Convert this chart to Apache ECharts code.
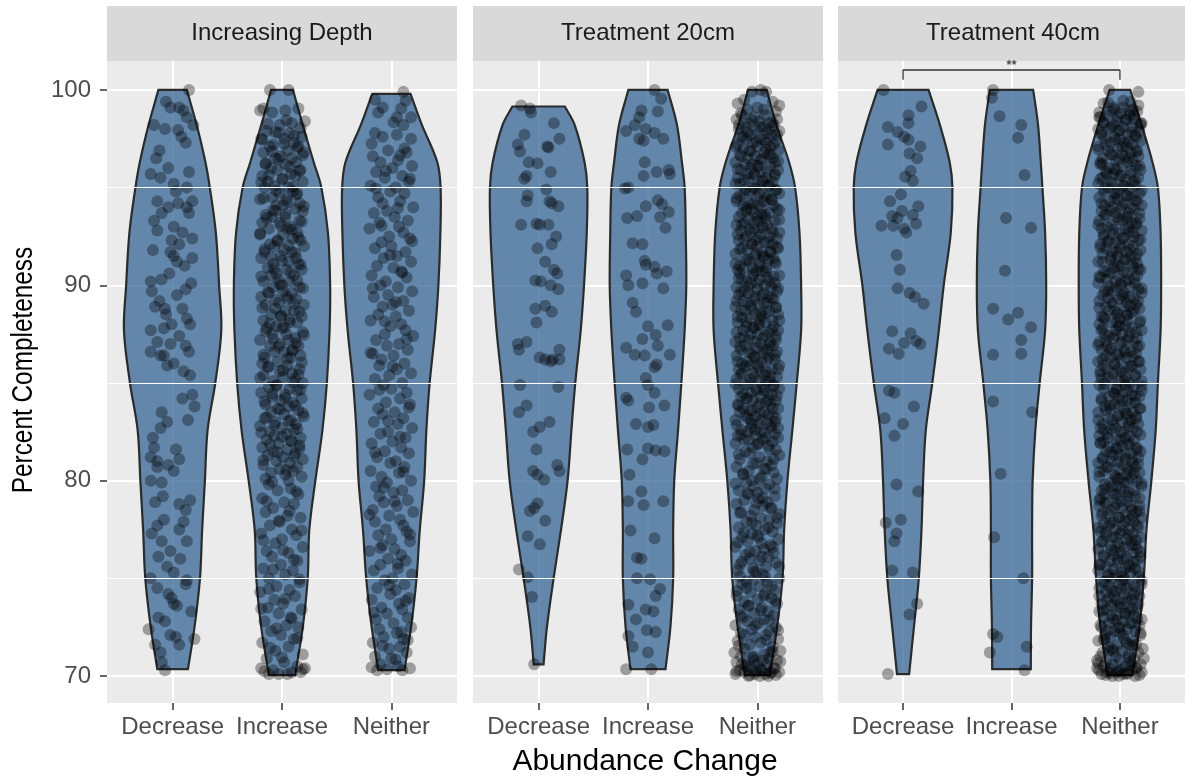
<!DOCTYPE html>
<html><head><meta charset="utf-8">
<script src="https://cdn.jsdelivr.net/npm/echarts@6/dist/echarts.min.js"></script>
<style>html,body{margin:0;padding:0;background:#fff}#c{width:1185px;height:784px}</style>
</head><body><div id="c"></div>
<script>
const facets = ['Increasing Depth', 'Treatment 20cm', 'Treatment 40cm'];
const groups = ['Decrease', 'Increase', 'Neither'];
const yTicks = [70, 80, 90, 100];
const yMinor = [75, 85, 95];
const xTitle = 'Abundance Change';
const yTitle = 'Percent Completeness';

// violin outline: half-width (x units) at these y levels
const violinLevels = [98.2, 96.3, 95, 92.7, 90, 87.7, 85, 82.6, 80, 77.5, 75, 72.5];
// [top y, top half-width, bottom y, bottom half-width]
const violinEnds = [
  [[100, .13, 70.35, .14], [100, .10, 70.05, .12], [99.8, .175, 70.3, .12]],
  [[99.15, .24, 70.6, .045], [100, .18, 70.35, .16], [100, .085, 70.05, .115]],
  [[100, .235, 70.1, .056], [100, .20, 70.35, .178], [100, .095, 70.05, .115]]
];
const violinWidths = [
  [[.22, .30, .34, .395, .425, .445, .39, .32, .295, .27, .25, .20],
   [.19, .29, .36, .42, .44, .435, .41, .37, .305, .25, .235, .19],
   [.28, .42, .45, .448, .43, .40, .35, .32, .30, .26, .23, .18]],
  [[.33, .42, .445, .44, .415, .385, .335, .30, .265, .205, .137, .076],
   [.265, .31, .335, .345, .35, .335, .305, .275, .24, .23, .23, .205],
   [.175, .29, .345, .385, .40, .40, .36, .32, .275, .245, .23, .18]],
  [[.34, .43, .455, .44, .375, .33, .27, .21, .185, .17, .145, .10],
   [.245, .27, .285, .31, .32, .31, .26, .22, .195, .19, .19, .18],
   [.20, .30, .35, .375, .38, .375, .35, .33, .29, .245, .22, .18]]
];

// jittered points: flat pairs [x offset in 1/100 units, percent completeness]
const ptsDepthDec = [15,100.0,-2,99.1,6,99.1,10,98.95,13,98.6,-17,98.2,-7,98.0,5,97.95,19,98.2,12,97.3,-15,96.5,-20,95.7,-4,96.0,15,95.8,-11,95.5,1,95.2,13,95.0,-14,94.3,5,94.2,13,94.0,-4,94.0,18,94.3,-10,93.7,15,93.7,1,93.0,-18,91.8,-1,92.3,6,92.1,18,92.4,4,91.2,18,91.4,-2,91.7,-20,90.2,-19,89.7,-10,90.3,4,89.5,-16,88.9,-6,88.5,9,88.8,13,88.3,-20,87.7,-8,87.8,-1,88.0,16,88.0,-14,87.1,-2,87.0,12,86.9,-20,86.6,-8,86.4,1,86.0,15,86.6,16,85.4,9,84.2,18,84.4,-10,83.5,20,83.8,-11,82.7,-5,83.0,-17,81.7,-20,81.2,6,81.1,-14,80.7,-4,80.8,-20,80.0,-10,79.9,6,78.8,16,79.0,-16,78.9,12,78.5,-19,77.3,-10,76.9,13,76.9,-2,76.4,-13,76.1,7,76.0,-20,75.0,13,74.9,12,74.7,-4,74.2,4,73.6,1,73.7,-13,73.0,-7,72.8,-22,72.4,-2,72.1,3,72.0,6,71.6,20,71.9,-11,71.2,-10,70.7,-7,70.3,-14,92.8,9,92.7,-7,88.8,12,89.8,1,91.5,-11,86.4,10,85.6,-14,81.0,1,80.5,-8,78.0,6,77.5,-5,75.6,-1,74.0,-14,74.5,
-6,99.4,8,97.6,-12,96.9,3,94.8,-17,93.3,11,91.0,-3,90.6,17,90.1,-12,89.2,6,87.4,-5,85.9,14,83.1,-18,82.2,3,81.6,-9,79.2,10,77.9,-14,77.7,1,75.3,17,73.3,-16,71.6];
const ptsDepthInc = [-11,100.0,6,100.0,-20,98.95,-17,99.05,-9,98.84,3,98.95,15,99.05,21,98.4,-2,98.2,9,98.3,
-14,97.9,7,97.8,-3,97.8,18,97.6,-19,97.5,2,97.5,11,97.3,-8,97.2,15,97.1,-11,97.1,5,96.9,-17,96.8,20,96.8,-1,96.6,9,96.5,-6,96.5,13,96.3,-15,96.2,3,96.2,-10,96.0,17,95.9,-4,95.9,8,95.7,-18,95.6,12,95.6,0,95.4,-13,95.3,19,95.3,-7,95.1,6,95.0,-16,95.0,10,94.8,-2,94.7,14,94.7,-9,94.5,4,94.4,-20,94.4,16,94.2,-5,94.1,1,94.1,
12,93.9,-6,93.8,19,93.8,-15,93.6,3,93.5,-9,93.5,16,93.3,-2,93.2,-18,93.2,8,93.0,-12,92.9,5,92.9,14,92.7,-20,92.6,1,92.6,10,92.4,-4,92.3,17,92.3,-11,92.1,-7,92.0,20,92.0,2,91.8,-16,91.7,9,91.7,-1,91.5,13,91.4,-19,91.4,6,91.2,-8,91.1,15,91.1,-13,90.9,4,90.8,18,90.8,-5,90.6,-10,90.5,11,90.5,-3,90.3,7,90.2,-17,90.2,0,90.0,
-8,89.9,16,89.9,1,89.7,-12,89.6,9,89.6,-19,89.4,5,89.3,13,89.3,-3,89.1,-15,89.0,20,89.0,-6,88.8,3,88.7,11,88.7,-10,88.5,18,88.4,-1,88.4,-17,88.2,7,88.1,14,88.1,-5,87.9,0,87.8,-14,87.8,19,87.6,-9,87.5,4,87.5,12,87.3,-20,87.2,6,87.2,-2,87.0,15,86.9,-11,86.9,10,86.7,-7,86.6,2,86.6,17,86.4,-16,86.3,8,86.3,-4,86.1,-18,86.0,
5,85.9,-13,85.8,16,85.7,-2,85.6,9,85.5,-17,85.4,1,85.3,12,85.2,-8,85.1,19,85.0,-5,84.9,-12,84.8,7,84.7,14,84.6,-19,84.5,3,84.4,-9,84.3,18,84.2,-1,84.1,10,84.0,-15,83.9,6,83.8,-4,83.7,15,83.6,-10,83.5,2,83.4,20,83.3,-16,83.2,8,83.1,-6,83.0,13,82.9,-20,82.8,0,82.7,11,82.6,-11,82.5,4,82.4,-7,82.3,17,82.2,-14,82.1,9,82.0,-3,81.9,16,81.8,-18,81.7,5,81.6,-8,81.5,12,81.4,-13,81.3,1,81.2,19,81.1,-5,81.0,7,80.9,-17,80.8,14,80.7,-2,80.6,10,80.5,-10,80.4,3,80.3,18,80.2,-15,80.1,6,80.0,
-12,79.8,8,79.6,-4,79.5,15,79.3,-18,79.1,2,78.9,11,78.8,-8,78.6,-15,78.4,5,78.2,17,78.1,-2,77.9,-11,77.7,9,77.5,-19,77.3,13,77.2,0,77.0,-6,76.8,19,76.6,-14,76.4,6,76.3,-9,76.1,14,75.9,-1,75.7,-17,75.5,10,75.4,3,75.2,-12,75.0,16,74.8,-5,74.6,7,74.4,-20,74.3,12,74.1,-7,73.9,1,73.7,-13,73.5,18,73.4,-3,73.2,8,73.0,-16,72.8,4,72.6,15,72.5,-10,72.3,-1,72.1,11,71.9,-18,71.7,6,71.5,-6,71.3,19,71.1,-14,70.9,2,70.7,14,70.5,-19,70.4,-8,70.3,9,70.2,-3,70.1,17,70.2,-12,70.1,21,70.4,5,70.1,
4,98.45,-13,98.25,17,98.05,-6,97.85,11,97.65,-18,97.45,2,97.25,14,97.05,-9,96.85,19,96.65,-3,96.45,-15,96.25,7,96.05,16,95.85,-12,95.65,1,95.45,-19,95.25,10,95.05,-5,94.85,13,94.65,-17,94.45,5,94.25,20,94.05,-8,93.85,3,93.65,-14,93.45,18,93.25,-1,93.05,9,92.85,-20,92.65,15,92.45,-4,92.25,6,92.05,-16,91.85,12,91.65,-10,91.45,0,91.25,17,91.05,-7,90.85,8,90.65,-19,90.45,14,90.25,-2,90.05,19,89.85,-13,89.65,4,89.45,-6,89.25,11,89.05,-18,88.85,16,88.65,-1,88.45,7,88.25,-11,88.05,2,87.85,-15,87.65,20,87.45,-8,87.25,13,87.05,-3,86.85,9,86.65,-17,86.45,5,86.25,18,86.05,-12,85.85,1,85.65,15,85.45,-20,85.25,10,85.05,-5,84.85,17,84.65,-9,84.45,3,84.25,-16,84.05,12,83.85,-2,83.65,19,83.45,-14,83.25,6,83.05,-7,82.85,14,82.65,-19,82.45,0,82.25,8,82.05,-11,81.85,16,81.65,-4,81.45,11,81.25,-17,81.05,
4,80.55,-9,79.95,13,79.45,-14,78.95,7,78.45,-3,77.95,18,77.45,-17,76.95,1,76.45,11,75.95,-8,75.45,16,74.95,-12,74.45,3,73.95,-19,73.45,9,72.95,-5,72.45,14,71.95,-11,71.45,0,70.95,19,70.35,-16,70.25];
const ptsDepthNei = [11,99.9,-15,99.5,-8,99.1,9,99.05,5,98.6,18,98.6,11,98.2,-15,97.8,-8,97.6,5,97.7,18,97.5,12,97.0,
-3,96.9,14,96.8,-17,96.6,6,96.4,-10,96.3,19,96.1,1,96.0,-14,95.8,10,95.6,-6,95.5,16,95.3,-19,95.1,4,95.0,-1,94.8,12,94.7,-12,94.5,8,94.3,-8,94.2,20,94.0,-4,93.8,-16,93.7,3,93.5,15,93.3,-11,93.2,7,93.0,-20,92.9,11,92.7,-2,92.5,17,92.4,-9,92.2,0,92.0,-15,91.9,13,91.7,5,91.5,-7,91.4,18,91.2,-13,91.0,2,90.9,9,90.7,-18,90.5,14,90.4,-5,90.2,-10,90.0,6,89.9,19,89.7,-3,89.5,-16,89.4,11,89.2,1,89.0,-8,88.9,16,88.7,-12,88.5,4,88.4,-19,88.2,9,88.0,-1,87.9,13,87.7,-6,87.5,20,87.4,-14,87.2,7,87.0,-4,86.9,15,86.7,-17,86.5,2,86.4,-9,86.2,12,86.0,-11,85.9,5,85.7,18,85.5,-2,85.4,-15,85.2,10,85.0,-7,84.9,0,84.7,14,84.5,-20,84.4,8,84.2,-5,84.0,17,83.9,-12,83.7,3,83.5,-8,83.4,11,83.2,-16,83.0,6,82.9,19,82.7,-3,82.5,-10,82.4,13,82.2,1,82.0,-18,81.9,9,81.7,-6,81.5,16,81.4,-13,81.2,4,81.0,-1,80.9,12,80.7,-19,80.5,7,80.4,-9,80.2,18,80.0,-4,79.9,-14,79.7,10,79.5,2,79.4,-11,79.2,15,79.0,-7,78.9,5,78.7,-17,78.5,20,78.4,-2,78.2,8,78.0,-15,77.9,11,77.7,-5,77.5,14,77.4,-12,77.2,0,77.0,17,76.9,-8,76.7,3,76.5,-20,76.4,9,76.2,-3,76.0,13,75.9,-10,75.7,6,75.5,-16,75.4,19,75.2,1,75.0,-6,74.9,12,74.7,-13,74.5,4,74.4,-1,74.2,16,74.0,-18,73.9,7,73.7,-9,73.5,10,73.4,-4,73.2,15,73.0,-14,72.9,2,72.7,18,72.5,-11,72.4,5,72.2,-7,72.0,11,71.9,-17,71.7,8,71.5,-2,71.4,14,71.2,-15,71.0,0,70.9,-10,70.6,6,70.5,17,70.4,-13,70.3,10,70.3,
13,99.45,-12,98.85,2,98.35,-18,97.25,8,96.65,-5,95.85,17,95.45,-14,94.95,6,93.95,-9,93.05,19,92.25,-1,91.55,10,90.65,-17,89.85,4,89.15,-6,88.15,14,87.25,-19,86.55,1,85.85,-11,84.65,16,83.75,-3,83.05,8,82.25,-15,81.45,11,80.45,-7,79.65,3,78.95,-20,78.25,17,77.25,-10,76.55,6,75.75,-2,74.65,13,73.85,-16,73.25,9,72.25,-8,71.55,4,70.85,-18,70.45,15,71.85,-4,70.35];
const pts20Dec = [-16,99.2,-8,99.05,-7,98.85,14,98.3,-13,97.7,19,97.5,-19,97.2,8,97.1,9,97.05,-17,96.85,-9,96.3,-1,96.25,11,95.8,-11,95.6,-13,95.45,7,94.9,-10,94.6,10,94.3,-11,94.3,18,94.05,12,94.2,-16,93.1,-2,93.15,1,93.1,9,93.1,16,92.5,12,92.1,-1,91.9,6,91.2,14,90.8,17,90.6,-3,90.25,2,90.2,11,90.0,18,89.8,-3,88.8,6,88.95,12,88.65,-2,88.1,-19,87.0,-11,87.1,-18,86.7,1,86.3,6,86.2,13,86.2,19,86.7,19,86.2,11,86.1,-17,84.9,18,84.8,-11,83.85,-18,83.5,10,83.0,1,82.75,-5,82.5,-2,81.6,-5,80.5,-1,80.3,5,80.05,17,80.8,19,80.5,-1,78.85,-8,78.45,-4,78.6,6,77.95,-10,77.15,1,76.75,-18,75.45,-10,75.05,-6,74.05,-4,70.6];
const pts20Inc = [6,100.0,12,99.55,-6,98.95,9,98.9,-8,98.6,-12,98.2,-20,97.9,-2,98.0,-8,97.5,-4,97.4,6,97.8,14,97.5,-3,96.3,-4,95.6,8,95.8,19,95.9,20,95.7,-21,94.95,-18,95.0,-2,94.05,-10,93.55,-19,93.45,9,94.35,13,94.15,19,93.75,11,93.5,16,92.95,-14,92.15,-5,92.1,-3,91.25,-2,91.05,6,90.95,8,90.6,17,90.7,-20,90.5,-18,90.0,-5,90.1,14,89.85,-14,89.1,-11,88.65,0,87.9,18,87.95,-5,87.25,7,87.45,9,86.9,-20,86.8,-12,86.45,-3,86.4,20,86.45,8,85.95,6,85.8,-2,85.25,0,84.9,-20,84.25,-18,84.1,6,84.5,1,83.75,15,83.85,-11,82.9,0,82.75,5,82.85,-19,81.6,-5,81.1,0,81.65,7,81.55,15,81.5,-17,80.3,-6,79.45,-18,78.95,-4,78.75,14,78.95,-16,77.45,6,77.05,-10,76.05,-6,76.0,-10,75.0,2,74.95,11,74.45,-18,73.65,7,74.1,-2,73.4,5,73.3,-11,72.9,-1,72.35,7,72.25,-18,72.05,-14,71.5,0,71.2,-20,70.35,3,70.35];
const pts20Nei = [3,100.0,-5,99.9,8,99.9,-12,99.5,14,99.4,-18,99.3,20,99.2,0,99.1,-9,99.0,6,99.0,17,98.9,-15,98.8,
-14,98.7,7,98.7,-3,98.6,18,98.5,-19,98.5,2,98.4,11,98.3,-8,98.3,15,98.2,-11,98.1,5,98.1,-17,98.0,20,97.9,-1,97.9,9,97.8,
-6,97.7,13,97.7,-15,97.6,3,97.5,-10,97.5,17,97.4,-4,97.3,8,97.3,-18,97.2,12,97.1,0,97.1,-13,97.0,19,96.9,-7,96.9,6,96.8,
-16,96.7,10,96.7,-2,96.6,14,96.5,-9,96.5,4,96.4,-20,96.3,16,96.3,-5,96.2,1,96.1,12,96.1,-6,96.0,19,95.9,-15,95.9,3,95.8,
-9,95.7,16,95.7,-2,95.6,-18,95.5,8,95.5,-12,95.4,5,95.3,14,95.3,-20,95.2,1,95.1,10,95.1,-4,95.0,17,94.9,-11,94.9,-7,94.8,
20,94.7,2,94.7,-16,94.6,9,94.5,-1,94.5,13,94.4,-19,94.3,6,94.3,-8,94.2,15,94.1,-13,94.1,4,94.0,18,93.9,-5,93.9,-10,93.8,
11,93.7,-3,93.7,7,93.6,-17,93.5,0,93.5,-8,93.4,16,93.3,1,93.3,-12,93.2,9,93.1,-19,93.1,5,93.0,13,92.9,-3,92.9,-15,92.8,
20,92.7,-6,92.7,3,92.6,11,92.5,-10,92.5,18,92.4,-1,92.3,-17,92.3,7,92.2,14,92.1,-5,92.1,0,92.0,-14,91.9,19,91.9,-9,91.8,
4,91.7,12,91.7,-20,91.6,6,91.5,-2,91.5,15,91.4,-11,91.3,10,91.3,-7,91.2,2,91.1,17,91.1,-16,91.0,8,90.9,-4,90.9,-18,90.8,
-1,90.7,5,90.7,-16,90.6,20,90.5,-4,90.5,9,90.4,-14,90.3,2,90.3,-10,90.2,16,90.1,-6,90.1,7,90.0,-19,89.9,13,89.9,0,89.8,
-12,89.7,18,89.7,-8,89.6,4,89.5,-17,89.5,10,89.4,-3,89.3,15,89.3,-13,89.2,6,89.1,-9,89.1,1,89.0,-20,88.9,17,88.9,-5,88.8,
11,88.7,-15,88.7,8,88.6,-2,88.5,19,88.5,-18,88.4,3,88.3,-7,88.3,14,88.2,7,88.1,-18,88.1,2,88.0,15,87.9,-10,87.9,-3,87.8,
19,87.7,-13,87.7,10,87.6,-6,87.5,0,87.5,17,87.4,-16,87.3,5,87.3,-8,87.2,12,87.1,-20,87.1,3,87.0,14,86.9,-11,86.9,-1,86.8,
9,86.7,-15,86.7,18,86.6,-5,86.5,6,86.5,-19,86.4,11,86.3,-2,86.3,16,86.2,-9,86.1,4,86.1,-14,86.0,20,85.9,-7,85.9,1,85.8,
13,85.7,-17,85.7,8,85.6,-4,85.5,-14,85.5,7,85.4,-3,85.3,18,85.3,-19,85.2,2,85.1,11,85.1,-8,85.0,15,84.9,-11,84.9,5,84.8,
-17,84.7,20,84.7,-1,84.6,9,84.5,-6,84.5,13,84.4,-15,84.3,3,84.3,-10,84.2,17,84.1,-4,84.1,8,84.0,-18,83.9,12,83.9,0,83.8,
-13,83.7,19,83.7,-7,83.6,6,83.5,-16,83.5,10,83.4,-2,83.3,14,83.3,-9,83.2,4,83.1,-20,83.1,16,83.0,-5,82.9,1,82.9,12,82.8,
-6,82.7,19,82.7,-15,82.6,3,82.5,-9,82.5,16,82.4,-2,82.3,-18,82.3,8,82.2,-12,82.1,5,82.1,14,82.0,-20,81.9,1,81.9,10,81.8,
-4,81.7,17,81.6,-11,81.5,-7,81.4,20,81.3,2,81.2,-16,81.1,9,81.0,-1,80.9,13,80.8,
-19,80.7,6,80.6,-8,80.5,15,80.4,-13,80.3,4,80.2,18,80.1,-5,80.0,-10,79.9,11,79.8,
-3,79.7,7,79.6,-17,79.5,0,79.4,-8,79.3,16,79.2,1,79.1,-12,79.0,9,78.9,-19,78.8,
5,78.7,13,78.6,-3,78.5,-15,78.4,20,78.3,-6,78.2,3,78.1,11,78.0,-10,77.9,18,77.8,
-1,77.7,-17,77.6,7,77.5,14,77.4,-5,77.3,0,77.2,-14,77.1,19,77.0,-9,76.9,4,76.8,
12,76.7,-20,76.6,6,76.5,-2,76.4,15,76.3,-11,76.2,10,76.1,-7,76.0,2,75.9,17,75.8,
-16,75.7,8,75.6,-4,75.5,-18,75.4,-1,75.3,5,75.2,-16,75.1,20,75.0,-4,74.9,9,74.8,
-14,74.7,2,74.6,-10,74.5,16,74.4,-6,74.3,7,74.2,-19,74.1,13,74.0,0,73.9,-12,73.8,
18,73.7,-8,73.6,4,73.5,-17,73.4,10,73.3,-3,73.2,15,73.1,-13,73.0,6,72.9,-9,72.8,
1,72.7,-20,72.6,17,72.5,-5,72.4,11,72.3,-15,72.2,8,72.1,-2,72.0,
19,71.9,-18,71.8,3,71.7,-7,71.6,14,71.5,-12,71.4,21,71.3,-21,71.2,6,71.1,-15,71.0,11,70.9,-3,70.8,18,70.8,-19,70.7,0,70.6,9,70.6,-10,70.5,16,70.4,-6,70.4,-16,70.3,4,70.3,13,70.2,-12,70.2,20,70.2,-2,70.1,7,70.1,-20,70.1,10,70.0,-8,70.0,2,70.0,15,70.4,-14,70.6,5,70.8,-4,71.0,12,71.2,
-5,98.45,14,98.35,-17,98.2,2,98.1,10,97.95,-9,97.85,18,97.7,-13,97.6,6,97.45,-1,97.35,15,97.2,-20,97.1,8,96.95,-6,96.85,12,96.7,-15,96.6,3,96.45,19,96.35,-11,96.2,0,96.1,-18,95.95,9,95.85,-3,95.7,16,95.6,-8,95.45,5,95.35,-16,95.2,11,95.1,-2,94.95,17,94.85,-12,94.7,7,94.6,-19,94.45,13,94.35,-4,94.2,1,94.1,-10,93.95,20,93.85,-14,93.7,4,93.6,7,93.45,20,93.35,-3,93.2,-14,93.1,4,92.95,-7,92.85,14,92.7,-18,92.6,1,92.45,-12,92.35,10,92.2,-5,92.1,18,91.95,-16,91.85,12,91.7,-1,91.6,5,91.45,-9,91.35,16,91.2,-20,91.1,2,90.95,-13,90.85,8,90.7,-4,90.6,15,90.45,-17,90.35,11,90.2,0,90.1,-8,89.95,19,89.85,-15,89.7,6,89.6,-2,89.45,13,89.35,-19,89.2,9,89.1,-6,88.95,17,88.85,-11,88.7,3,88.6,4,88.45,-14,88.35,20,88.2,-10,88.1,1,87.95,-4,87.85,13,87.7,-19,87.6,7,87.45,-12,87.35,17,87.2,-2,87.1,11,86.95,-16,86.85,5,86.7,-8,86.6,16,86.45,-3,86.35,9,86.2,-18,86.1,0,85.95,-11,85.85,19,85.7,3,85.6,-15,85.45,12,85.35,-6,85.2,8,85.1,-20,84.95,15,84.85,-1,84.7,6,84.6,-13,84.45,18,84.35,-9,84.2,10,84.1,2,83.95,-17,83.85,14,83.7,-5,83.6,3,83.45,-11,83.35,17,83.2,-6,83.1,9,82.95,-19,82.85,13,82.7,-2,82.6,6,82.45,-15,82.35,19,82.2,-8,82.1,
0,81.85,11,81.6,-17,81.35,15,81.1,-4,80.85,8,80.6,-13,80.35,2,80.1,-20,79.85,16,79.6,-9,79.35,5,79.1,-1,78.85,12,78.6,-16,78.35,18,78.1,-5,77.85,10,77.6,-12,77.35,1,77.1,-18,76.85,14,76.6,-7,76.35,4,76.1,-14,75.85,20,75.6,-3,75.35,7,75.1,-10,74.85,13,74.6,-19,74.35,6,74.1,16,73.85,-8,73.6,3,73.35,-15,73.1,11,72.85,-2,72.6,19,72.35,-12,72.1,
8,71.85,-17,71.55,14,71.25,-4,70.95,21,70.75,-11,70.55,3,70.35,-19,70.25,12,70.15,-7,70.05,17,70.05,-1,70.25];
const pts40Dec = [-18,100.0,17,99.15,5,98.7,5,98.3,-14,98.1,-5,97.85,1,97.6,-14,97.2,5,97.45,16,97.1,6,96.75,13,96.5,7,95.85,2,95.55,9,95.35,-2,94.65,-12,94.3,14,94.05,-1,93.8,-10,93.55,-5,93.45,9,93.6,-20,93.05,-9,93.05,12,93.15,1,92.9,3,92.7,-6,91.55,-3,90.8,-5,89.85,6,89.6,11,89.4,19,89.05,-10,87.65,7,87.55,1,87.05,12,87.15,16,87.0,-13,86.75,-4,86.5,-13,84.6,-8,84.5,10,83.8,-17,83.2,0,82.9,-8,82.3,-6,79.8,14,79.45,-16,77.85,-2,78.0,-6,77.3,-8,76.9,-10,75.4,9,75.3,13,73.7,6,73.15,-14,70.1];
const pts40Inc = [-17,100.0,-18,99.6,-11,98.65,9,98.2,6,97.55,12,95.65,-5,93.45,18,92.95,-6,90.75,-17,88.8,-3,88.25,6,88.6,18,87.85,9,87.2,-17,86.45,9,86.5,-17,84.05,19,83.5,-10,80.35,-16,77.1,11,75.0,-17,72.15,-13,72.0,-20,71.2,14,71.5,12,70.3];
const pts40Nei = [-10,100.0,17,99.9,-15,99.3,10,99.4,-5,99.0,3,99.1,12,99.0,-18,98.6,19,98.3,-20,98.0,
-8,98.9,16,98.9,1,98.8,-12,98.7,9,98.7,-19,98.6,5,98.5,13,98.5,-3,98.4,-15,98.3,20,98.3,-6,98.2,3,98.1,11,98.1,-10,98.0,
18,97.9,-1,97.9,-17,97.8,7,97.7,14,97.7,-5,97.6,0,97.5,-14,97.5,19,97.4,-9,97.3,4,97.3,12,97.2,-20,97.1,6,97.1,-2,97.0,
15,96.9,-11,96.9,10,96.8,-7,96.7,2,96.7,17,96.6,-16,96.5,8,96.5,-4,96.4,-18,96.3,7,96.3,-18,96.2,2,96.1,15,96.1,-10,96.0,
-3,95.9,19,95.9,-13,95.8,10,95.7,-6,95.7,0,95.6,17,95.5,-16,95.5,5,95.4,-8,95.3,12,95.3,-20,95.2,3,95.1,14,95.1,-11,95.0,
-1,94.9,9,94.9,-15,94.8,18,94.7,-5,94.7,6,94.6,-19,94.5,11,94.5,-2,94.4,16,94.3,-9,94.3,4,94.2,-14,94.1,20,94.1,-7,94.0,
1,93.9,13,93.9,-17,93.8,8,93.7,-4,93.7,-14,93.6,7,93.5,-3,93.5,18,93.4,-19,93.3,2,93.3,11,93.2,-8,93.1,15,93.1,-11,93.0,
5,92.9,-17,92.9,20,92.8,-1,92.7,9,92.7,-6,92.6,13,92.5,-15,92.5,3,92.4,-10,92.3,17,92.3,-4,92.2,8,92.1,-18,92.1,12,92.0,
0,91.9,-13,91.9,19,91.8,-7,91.7,6,91.7,-16,91.6,10,91.5,-2,91.5,14,91.4,-9,91.3,4,91.3,-20,91.2,16,91.1,-5,91.1,1,91.0,
12,90.9,-6,90.9,19,90.8,-15,90.7,3,90.7,-9,90.6,16,90.5,-2,90.5,-18,90.4,8,90.3,-12,90.3,5,90.2,14,90.1,-20,90.1,1,90.0,
10,89.9,-4,89.9,17,89.8,-11,89.7,-7,89.7,20,89.6,2,89.5,-16,89.5,9,89.4,-1,89.3,13,89.3,-19,89.2,6,89.1,-8,89.1,15,89.0,
-13,88.9,4,88.9,18,88.8,-5,88.7,-10,88.7,11,88.6,-3,88.5,7,88.5,-17,88.4,0,88.3,-14,88.3,7,88.2,-3,88.1,18,88.1,-19,88.0,
-1,87.9,5,87.9,-16,87.8,20,87.7,-4,87.7,9,87.6,-14,87.5,2,87.5,-10,87.4,16,87.3,-6,87.3,7,87.2,-19,87.1,13,87.1,0,87.0,
-12,86.9,18,86.9,-8,86.8,4,86.7,-17,86.7,10,86.6,-3,86.5,15,86.5,-13,86.4,6,86.3,-9,86.3,1,86.2,-20,86.1,17,86.1,-5,86.0,
11,85.9,-15,85.9,8,85.8,-2,85.7,19,85.7,-18,85.6,3,85.5,-7,85.5,14,85.4,-11,85.3,5,85.3,-17,85.2,20,85.1,-1,85.1,9,85.0,
-19,84.9,5,84.9,13,84.8,-3,84.7,-15,84.7,20,84.6,-6,84.5,3,84.5,11,84.4,-10,84.3,18,84.3,-1,84.2,-17,84.1,7,84.1,14,84.0,
-5,83.9,0,83.9,-14,83.8,19,83.7,-9,83.7,4,83.6,12,83.5,-20,83.5,6,83.4,-2,83.3,15,83.3,-11,83.2,10,83.1,-7,83.1,2,83.0,
17,82.9,-16,82.9,8,82.8,-4,82.7,-18,82.7,-8,82.6,16,82.5,1,82.5,-12,82.4,9,82.3,-19,82.3,5,82.2,13,82.1,-3,82.1,-15,82.0,
7,81.9,-18,81.9,2,81.8,15,81.7,-10,81.7,-3,81.6,19,81.5,-13,81.5,10,81.4,-6,81.3,0,81.3,17,81.2,-16,81.1,5,81.1,-8,81.0,
12,80.9,-20,80.9,3,80.8,14,80.7,-11,80.7,-1,80.6,9,80.5,-15,80.5,18,80.4,-5,80.3,6,80.3,-19,80.2,11,80.1,-2,80.1,16,80.0,
-9,79.9,4,79.9,-14,79.8,20,79.7,-7,79.7,1,79.6,13,79.5,-17,79.5,8,79.4,-4,79.3,-14,79.3,7,79.2,-3,79.1,18,79.1,-19,79.0,
-14,78.9,7,78.9,-3,78.8,18,78.7,-19,78.7,2,78.6,11,78.5,-8,78.5,15,78.4,-11,78.3,5,78.3,-17,78.2,20,78.1,-1,78.1,9,78.0,
-6,77.9,13,77.9,-15,77.8,3,77.7,-10,77.7,17,77.6,-4,77.5,8,77.5,-18,77.4,12,77.3,0,77.3,-13,77.2,19,77.1,-7,77.1,6,77.0,
-16,76.9,10,76.9,-2,76.8,14,76.7,-9,76.7,4,76.6,-20,76.5,16,76.5,-5,76.4,1,76.3,12,76.3,-6,76.2,19,76.1,-15,76.1,3,76.0,
-9,75.9,16,75.9,-2,75.8,-18,75.7,8,75.7,-12,75.6,5,75.5,14,75.5,-20,75.4,1,75.3,10,75.3,-4,75.2,17,75.1,-11,75.1,-7,75.0,
20,74.9,2,74.9,-16,74.8,9,74.7,-1,74.7,13,74.6,-19,74.5,6,74.5,-8,74.4,15,74.3,-13,74.3,4,74.2,18,74.1,-5,74.1,-10,74.0,
11,73.9,-3,73.9,7,73.8,-17,73.7,0,73.7,-8,73.6,16,73.5,1,73.5,-12,73.4,9,73.3,-19,73.3,5,73.2,13,73.1,-3,73.1,-15,73.0,
20,72.9,-6,72.9,3,72.8,11,72.7,-10,72.7,18,72.6,-1,72.5,-17,72.5,7,72.4,14,72.3,-5,72.3,0,72.2,-14,72.1,19,72.1,-9,72.0,
4,71.9,12,71.8,-20,71.8,6,71.7,-2,71.6,15,71.6,-11,71.5,21,71.4,-7,71.4,2,71.3,17,71.2,-16,71.2,8,71.1,-4,71.0,-18,71.0,13,70.9,-21,70.8,0,70.8,10,70.7,-13,70.7,19,70.6,-6,70.6,5,70.5,-15,70.5,15,70.4,-9,70.4,1,70.3,-19,70.3,11,70.3,-3,70.2,20,70.2,-12,70.2,7,70.1,-17,70.1,3,70.1,-7,70.0,14,70.0,-1,70.0,-21,70.4,22,70.9,-10,71.3,9,71.6,-14,71.9,
3,99.45,-11,99.35,17,99.2,-6,99.1,9,98.95,-19,98.85,13,98.7,-2,98.6,6,98.45,-15,98.35,19,98.2,-8,98.1,0,97.95,11,97.85,-17,97.7,15,97.6,-4,97.45,8,97.35,-13,97.2,2,97.1,-20,96.95,16,96.85,-9,96.7,5,96.6,-1,96.45,12,96.35,-16,96.2,18,96.1,-5,95.95,10,95.85,-12,95.7,1,95.6,-18,95.45,14,95.35,-7,95.2,4,95.1,-14,94.95,20,94.85,-3,94.7,7,94.6,-5,94.45,14,94.35,-17,94.2,2,94.1,10,93.95,-9,93.85,18,93.7,-13,93.6,6,93.45,-1,93.35,15,93.2,-20,93.1,8,92.95,-6,92.85,12,92.7,-15,92.6,3,92.45,19,92.35,-11,92.2,0,92.1,-18,91.95,9,91.85,-3,91.7,16,91.6,-8,91.45,5,91.35,-16,91.2,11,91.1,-2,90.95,17,90.85,-12,90.7,7,90.6,-19,90.45,13,90.35,-4,90.2,1,90.1,-10,89.95,20,89.85,-14,89.7,4,89.6,3,89.45,-11,89.35,17,89.2,-6,89.1,9,88.95,-19,88.85,13,88.7,-2,88.6,6,88.45,-15,88.35,19,88.2,-8,88.1,0,87.95,11,87.85,-17,87.7,15,87.6,-4,87.45,8,87.35,-13,87.2,2,87.1,-20,86.95,16,86.85,-9,86.7,5,86.6,-1,86.45,12,86.35,-16,86.2,18,86.1,-5,85.95,10,85.85,-12,85.7,1,85.6,-18,85.45,14,85.35,-7,85.2,4,85.1,-14,84.95,20,84.85,-3,84.7,7,84.6,-5,84.45,14,84.35,-17,84.2,2,84.1,10,83.95,-9,83.85,18,83.7,-13,83.6,6,83.45,-1,83.35,15,83.2,-20,83.1,8,82.95,-6,82.85,12,82.7,-15,82.6,3,82.45,19,82.35,-11,82.2,0,82.1,-18,81.95,9,81.85,-3,81.7,16,81.6,-8,81.45,5,81.35,-16,81.2,11,81.1,-2,80.95,17,80.85,-12,80.7,7,80.6,-19,80.45,13,80.35,-4,80.2,1,80.1,
7,79.95,20,79.85,-3,79.7,-14,79.6,4,79.45,-7,79.35,14,79.2,-18,79.1,1,78.95,-12,78.85,10,78.7,-5,78.6,18,78.45,-16,78.35,12,78.2,-1,78.1,5,77.95,-9,77.85,16,77.7,-20,77.6,2,77.45,-13,77.35,8,77.2,-4,77.1,15,76.95,-17,76.85,11,76.7,0,76.6,-8,76.45,19,76.35,-15,76.2,6,76.1,-2,75.95,13,75.85,-19,75.7,9,75.6,-6,75.45,17,75.35,-11,75.2,3,75.1,4,74.95,-14,74.85,20,74.7,-10,74.6,1,74.45,-4,74.35,13,74.2,-19,74.1,7,73.95,-12,73.85,17,73.7,-2,73.6,11,73.45,-16,73.35,5,73.2,-8,73.1,16,72.95,-3,72.85,9,72.7,-18,72.6,0,72.45,-11,72.35,19,72.2,3,72.1,
-15,71.85,12,71.55,-6,71.25,8,70.95,-20,70.65,15,70.45,-1,70.25,6,70.15,-13,70.05,18,70.05,-9,70.15,10,70.55];

const points = [
  [ptsDepthDec, ptsDepthInc, ptsDepthNei],
  [pts20Dec, pts20Inc, pts20Nei],
  [pts40Dec, pts40Inc, pts40Nei]
];

// significance annotation (Treatment 40cm): Decrease vs Neither
const sigFacet = 2, sigFrom = 'Decrease', sigTo = 'Neither', sigY = 101.02, sigDrop = 0.5, sigLabel = '**';

const FONT = '"Liberation Sans", Arial, Helvetica, sans-serif';
const gridLefts = [107, 473, 838];
const panelW = 350, panelTop = 61, panelH = 642;
const yMin = 68.62, yMax = 101.48;

function toXY(arr, gi) {
  const out = [];
  for (let k = 0; k < arr.length; k += 2) out.push([gi + 1 + arr[k] / 100, arr[k + 1]]);
  return out;
}

function violinShape(fi, gi, api) {
  const e = violinEnds[fi][gi], w = violinWidths[fi][gi], xc = gi + 1;
  const right = [[xc + e[1], e[0]], [xc + e[1], e[0]]];
  violinLevels.forEach((lv, k) => right.push([xc + w[k], lv]));
  right.push([xc + e[3], e[2]], [xc + e[3], e[2]]);
  const left = right.slice().reverse().map(p => [2 * xc - p[0], p[1]]);
  const pts = right.concat(left).map(p => api.coord(p));
  return {
    type: 'polygon',
    shape: { points: pts, smooth: 0.35 },
    style: { fill: 'rgba(45,95,145,0.72)', stroke: '#2B2B2B', lineWidth: 2.2 }
  };
}

const grids = gridLefts.map(l => ({ left: l, top: panelTop, width: panelW, height: panelH, show: true, backgroundColor: '#EBEBEB', borderWidth: 0 }));
const xAxes = gridLefts.map((l, i) => ({
  gridIndex: i, type: 'value', min: 0.4, max: 3.6,
  axisLine: { show: false },
  axisTick: { show: true, customValues: [1, 2, 3], length: 7, lineStyle: { color: '#333333', width: 1.5 } },
  axisLabel: { show: true, customValues: [1, 2, 3], formatter: v => groups[Math.round(v) - 1], color: '#4D4D4D', fontSize: 24, fontFamily: FONT, margin: 12 },
  splitLine: { show: true, lineStyle: { color: '#FFFFFF', width: 2 } }
}));
const yAxes = gridLefts.map((l, i) => ({
  gridIndex: i, type: 'value', min: yMin, max: yMax,
  axisLine: { show: false },
  axisTick: { show: i === 0, customValues: yTicks, length: 7, lineStyle: { color: '#333333', width: 1.5 } },
  axisLabel: { show: i === 0, customValues: yTicks, color: '#4D4D4D', fontSize: 24, fontFamily: FONT, margin: 16 },
  splitLine: { show: true, lineStyle: { color: '#FFFFFF', width: 2 } }
}));

const series = [];
facets.forEach((f, fi) => {
  series.push({
    type: 'line', xAxisIndex: fi, yAxisIndex: fi, data: [], z: 1, silent: true,
    markLine: { silent: true, symbol: ['none', 'none'], label: { show: false }, animation: false,
      lineStyle: { color: '#FFFFFF', width: 1, type: 'solid' },
      emphasis: { disabled: true },
      data: yMinor.map(v => ({ yAxis: v })) }
  });
  series.push({
    type: 'custom', xAxisIndex: fi, yAxisIndex: fi, z: 2, silent: true,
    data: groups.map((g, gi) => [gi + 1, violinEnds[fi][gi][0]]),
    encode: { x: 0, y: 1 },
    renderItem: (params, api) => violinShape(fi, params.dataIndex, api)
  });
  groups.forEach((g, gi) => {
    series.push({
      type: 'scatter', xAxisIndex: fi, yAxisIndex: fi, z: 3, silent: true,
      symbolSize: 12, progressive: 0,
      itemStyle: { color: 'rgba(0,0,0,0.42)', borderWidth: 0 },
      data: toXY(points[fi][gi], gi)
    });
  });
});
const sx0 = groups.indexOf(sigFrom) + 1, sx1 = groups.indexOf(sigTo) + 1;
series.push({
  type: 'line', xAxisIndex: sigFacet, yAxisIndex: sigFacet, z: 4, silent: true, symbol: 'none',
  lineStyle: { color: '#333333', width: 1.3 },
  data: [[sx0, sigY - sigDrop], [sx0, sigY], [sx1, sigY], [sx1, sigY - sigDrop]]
});
series.push({
  type: 'scatter', xAxisIndex: sigFacet, yAxisIndex: sigFacet, z: 4, silent: true,
  symbolSize: 1, itemStyle: { color: 'rgba(0,0,0,0)' },
  data: [[(sx0 + sx1) / 2, sigY]],
  label: { show: true, position: 'top', distance: -2, formatter: sigLabel, fontSize: 13, fontWeight: 'bold', color: '#222222', fontFamily: FONT }
});

const graphic = [];
facets.forEach((f, i) => {
  graphic.push({ type: 'rect', left: gridLefts[i], top: 6, shape: { width: panelW, height: 55 }, style: { fill: '#D9D9D9' }, silent: true });
  graphic.push({ type: 'text', x: gridLefts[i] + panelW / 2, y: 33.5, silent: true,
    style: { text: f, fill: '#1A1A1A', fontSize: 24, fontFamily: FONT, align: 'center', verticalAlign: 'middle' } });
});
graphic.push({ type: 'text', x: 645, y: 762, silent: true,
  style: { text: xTitle, fill: '#000000', fontSize: 30, fontFamily: FONT, align: 'center', verticalAlign: 'middle' } });
graphic.push({ type: 'text', x: 24, y: 370, rotation: Math.PI / 2, scaleX: 0.84, silent: true,
  style: { text: yTitle, fill: '#000000', fontSize: 29, fontFamily: FONT, align: 'center', verticalAlign: 'middle' } });

const chart = echarts.init(document.getElementById('c'), null, { renderer: 'canvas' });
chart.setOption({
  animation: false,
  backgroundColor: '#FFFFFF',
  grid: grids, xAxis: xAxes, yAxis: yAxes,
  series: series,
  graphic: graphic
});
</script>
</body></html>
